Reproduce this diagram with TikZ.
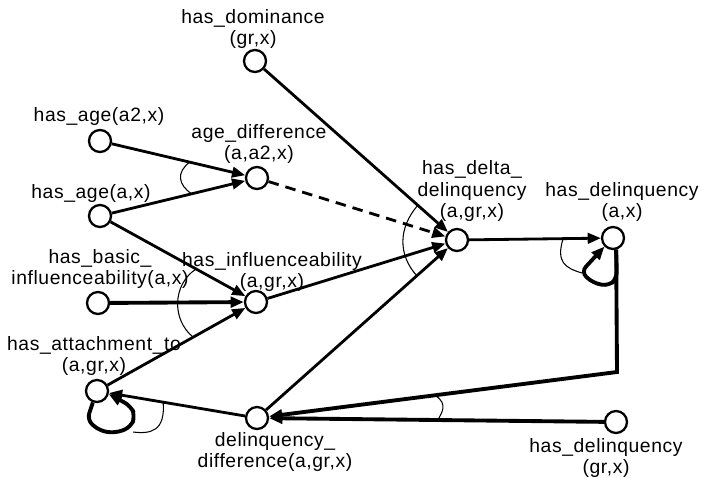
\documentclass[tikz,border=0pt]{standalone}
\usepackage{fontspec}
\setmainfont[LetterSpace=3]{Liberation Sans}
\usetikzlibrary{arrows.meta}
\tikzset{% styles for the state nodes, their texts and the links
   statenode/.style={circle, draw, line width=1.3pt, minimum size=0.44cm, inner sep=0mm},
   txt/.style={inner sep=0pt, align=center, font=\fontsize{11}{12.5}\selectfont},
   link/.style={line width=1.6pt, -{Triangle[length=7.5pt,width=6pt]}},
   heavy/.style={link, line width=2.2pt},
   % the thin arcs that tie links together
   andarc/.style={line width=0.6pt}
}
\begin{document}
\begin{tikzpicture}[x=0.02cm, y=-0.02cm]
   \useasboundingbox (0,0) rectangle (702,477);
   \foreach \n/\x/\y in {dom/255/61, agetwo/100/141, agediff/257/178, agea/100/216,
                         basic/98/303, infl/256/302, attach/97/391, deldiff/257/418,
                         delta/457/240, dela/613/238, delgr/616/422} {
      \node[statenode] (\n) at (\x,\y) {};
   }
   % texts of the states
   \node[txt] (dom-t) at (253,29) {has\_dominance\\(gr,x)};
   \node[txt] (agetwo-t) at (99,116) {has\_age(a2,x)};
   \node[txt] (agediff-t) at (259,144) {age\_difference\\(a,a2,x)};
   \node[txt] (agea-t) at (91,193) {has\_age(a,x)};
   \node[txt] (basic-t) at (100,269) {has\_basic\_\\influenceability(a,x)};
   \node[txt] (infl-t) at (272,272) {has\_influenceability\\(a,gr,x)};
   \node[txt] (attach-t) at (94,356) {has\_attachment\_to\\(a,gr,x)};
   \node[txt] (deldiff-t) at (275,452) {delinquency\_\\difference(a,gr,x)};
   \node[txt] (delta-t) at (472,191) {has\_delta\_\\delinquency\\(a,gr,x)};
   \node[txt] (dela-t) at (622,202) {has\_delinquency\\(a,x)};
   \node[txt] (delgr-t) at (606,458) {has\_delinquency\\(gr,x)};
   % links
   \foreach \a/\b in {dom/delta, agetwo/agediff, agea/agediff, agea/infl, infl/delta,
                      attach/infl, deldiff/delta, delta/dela, deldiff/attach} {
      \draw[link] (\a) -- (\b);
   }
   \draw[link, dash pattern=on 6pt off 4pt] (agediff) -- (delta);
   \draw[heavy] (basic) -- (infl);
   \draw[heavy] (delgr) -- (deldiff);
   \draw[heavy] (dela.-75) -- (617,372) -- (deldiff);
   % loops
   \draw[heavy, rounded corners=4pt] (dela.-75) -- (617,278) -- (609,286) -- (593,283)
        -- (581,272) -- (dela.-135);
   \draw[heavy, rounded corners=4pt] (attach.-110) -- (87,420) -- (100,431) -- (116,433)
        -- (131,427) -- (135,416) -- (131,406) -- (attach.-15);
   % arcs
   \draw[andarc] (190,162) .. controls (176,172) and (178,185) .. (192,194);
   \draw[andarc] (196,269) .. controls (172,285) and (172,320) .. (193,337);
   \draw[andarc] (418,205) .. controls (398,228) and (398,255) .. (417,276);
   \draw[andarc] (563,239) .. controls (556,262) and (565,268) .. (582,273);
   \draw[andarc] (436,396) .. controls (448,404) and (442,413) .. (437,421);
   \draw[andarc] (163,401) .. controls (166,432) and (150,434) .. (133,432);
\end{tikzpicture}
\end{document}
